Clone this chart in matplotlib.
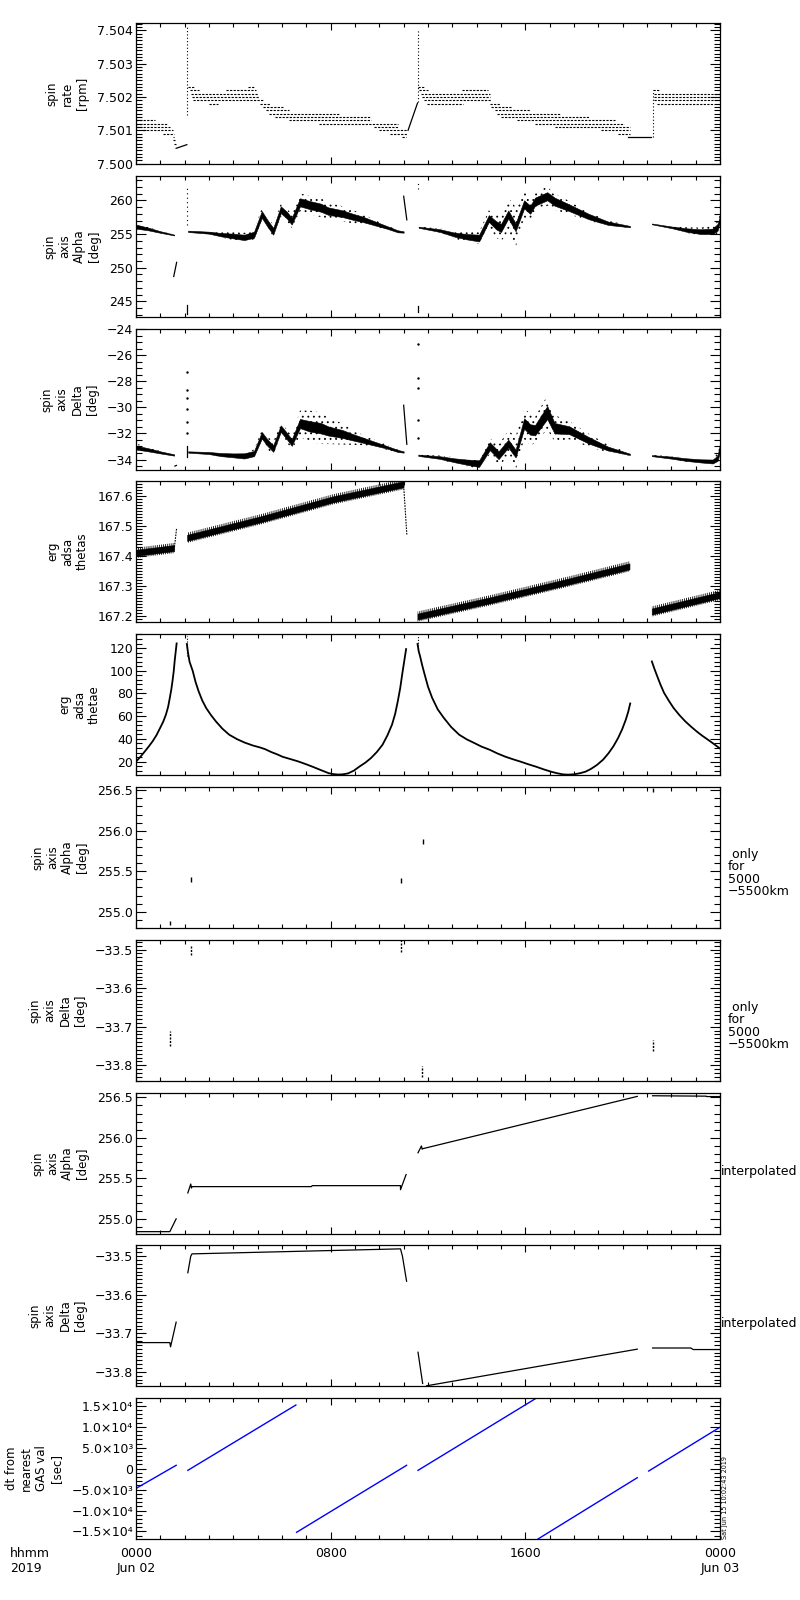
import numpy as np
import matplotlib
matplotlib.use("Agg")
import matplotlib.pyplot as plt
from matplotlib.ticker import MultipleLocator, FixedLocator, FuncFormatter

plt.rcParams["font.family"] = ["DejaVu Sans"]
plt.rcParams["axes.linewidth"] = 0.9
plt.rcParams["hatch.linewidth"] = 0.6

# ---------------------------------------------------------------
# data (hours since 2019-06-02 00:00)
# ---------------------------------------------------------------

# panel 1 : spin rate [rpm], quantised levels (t0, t1, level)
rate_lvl_t0 = [0.0, 0.0, 0.0, 0.3, 1.1, 1.5, 1.52, 1.55,
               2.12, 4.6, 2.2, 3.7, 2.25, 2.3, 2.35, 3.0, 5.1, 5.2, 5.35, 5.45, 5.7, 6.3, 7.5, 9.8, 10.0, 10.45, 10.95,
               11.6, 11.65, 13.4, 11.7, 11.75, 11.85, 11.95, 14.55, 14.6, 14.75, 14.85, 15.0, 15.65, 16.4, 17.2, 19.1, 19.8,
               21.23, 21.3, 21.3, 21.3, 21.4]
rate_lvl_t1 = [0.78, 1.26, 1.40, 1.53, 1.55, 1.58, 1.62, 1.65,
               2.4, 4.85, 2.6, 4.95, 5.0, 5.05, 5.2, 3.35, 5.5, 6.1, 6.3, 8.4, 9.65, 9.65, 10.76, 10.76, 11.15, 11.15, 11.1,
               11.85, 12.0, 14.45, 14.55, 14.55, 14.6, 13.45, 14.95, 15.4, 16.2, 17.45, 18.6, 19.7, 20.05, 20.3, 20.3, 20.3,
               21.55, 24.0, 24.0, 24.0, 23.7]
rate_lvl_val = [7.5013, 7.5012, 7.5011, 7.5010, 7.5009, 7.5008, 7.5007, 7.5006,
                7.5023, 7.5023, 7.5022, 7.5022, 7.5021, 7.5020, 7.5019, 7.5018, 7.5018, 7.5017, 7.5016, 7.5015, 7.5014,
                7.5013, 7.5012, 7.5011, 7.5010, 7.5009, 7.5008,
                7.5023, 7.5022, 7.5022, 7.5021, 7.5020, 7.5019, 7.5018, 7.5018, 7.5017, 7.5016, 7.5015, 7.5014, 7.5013,
                7.5012, 7.5011, 7.5010, 7.5009,
                7.5022, 7.5021, 7.5020, 7.5019, 7.5018]
rate_ramp_t = [[1.65, 2.09], [11.18, 11.57]]
rate_ramp_v = [[7.50046, 7.50057], [7.50100, 7.50182]]
rate_flat_t = [20.2, 21.18]
rate_flat_v = [7.50080, 7.50080]
rate_spike_t = [2.11, 11.60, 21.23]
rate_spike_lo = [7.50146, 7.50186, 7.50080]
rate_spike_hi = [7.50415, 7.50400, 7.50222]

# panel 2 : spin axis alpha [deg], bands (time, centre, core half width, scatter half width)
alpha_t = [[0.0, 0.5, 1.0, 1.57],
           [2.14, 3.0, 3.5, 4.0, 4.45, 4.85, 5.17, 5.4, 5.64, 5.95, 6.2, 6.4, 6.74, 7.13, 7.6, 7.9, 8.5, 8.87,
            9.3, 9.8, 10.3, 10.76, 11.0],
           [11.62, 12.5, 13.1, 13.6, 14.1, 14.5, 14.8, 15.0, 15.3, 15.6, 15.95, 16.2, 16.4, 16.9, 17.2, 17.8,
            18.6, 19.4, 20.3],
           [21.2, 22.0, 22.6, 23.2, 23.7, 23.9, 24.0]]
alpha_c = [[256.1, 255.75, 255.3, 254.85],
           [255.4, 255.2, 254.9, 254.7, 254.5, 254.9, 257.9, 256.6, 255.4, 258.6, 257.8, 256.9, 259.7, 259.3,
            258.9, 258.4, 258.0, 257.6, 257.2, 256.6, 256.0, 255.4, 255.3],
           [256.0, 255.5, 254.9, 254.6, 254.4, 257.3, 256.3, 255.9, 257.9, 256.0, 259.4, 258.6, 259.8, 260.6,
            259.8, 258.9, 257.6, 256.6, 256.1],
           [256.5, 256.0, 255.6, 255.35, 255.4, 256.0, 257.3]]
alpha_core = [[0.3, 0.2, 0.12, 0.06],
              [0.1, 0.15, 0.25, 0.35, 0.4, 0.45, 0.5, 0.5, 0.5, 0.5, 0.5, 0.5, 0.6, 0.6, 0.6, 0.55, 0.5, 0.45,
               0.4, 0.3, 0.2, 0.15, 0.1],
              [0.08, 0.2, 0.3, 0.4, 0.5, 0.5, 0.6, 0.6, 0.6, 0.6, 0.6, 0.6, 0.6, 0.6, 0.6, 0.5, 0.4, 0.25, 0.1],
              [0.06, 0.12, 0.25, 0.35, 0.4, 0.5, 0.4]]
alpha_scat = [[0.5, 0.3, 0.15, 0.06],
              [0.1, 0.2, 0.4, 0.6, 0.7, 0.7, 0.9, 1.0, 1.0, 0.9, 1.0, 1.0, 1.3, 1.4, 1.4, 1.3, 1.1, 1.0, 0.8,
               0.5, 0.3, 0.2, 0.1],
              [0.1, 0.3, 0.6, 0.8, 0.9, 1.2, 1.8, 2.0, 2.5, 3.0, 2.0, 1.5, 1.4, 1.4, 1.2, 1.0, 0.6, 0.4, 0.15],
              [0.08, 0.2, 0.4, 0.6, 0.8, 0.9, 0.6]]
alpha_lines_t = [[1.55, 1.67], [11.0, 11.13], [2.09, 2.09], [11.6, 11.6]]
alpha_lines_v = [[248.7, 250.8], [260.6, 257.1], [243.1, 244.5], [243.5, 244.3]]
alpha_spike_t = [2.09, 11.6]
alpha_spike_lo = [256.3, 261.6]
alpha_spike_hi = [262.1, 262.6]

# panel 3 : spin axis delta [deg]
delta_t = [[0.0, 0.5, 1.0, 1.57],
           [2.14, 3.0, 3.5, 4.0, 4.45, 4.85, 5.17, 5.4, 5.64, 5.95, 6.2, 6.4, 6.74, 7.13, 7.6, 7.9, 8.5, 8.87,
            9.3, 9.8, 10.3, 10.76, 11.0],
           [11.6, 12.5, 13.1, 13.6, 14.1, 14.54, 14.9, 15.3, 15.6, 15.95, 16.2, 16.4, 16.9, 17.2, 17.8, 18.6,
            19.4, 20.3],
           [21.2, 22.0, 22.6, 23.2, 23.7, 23.9, 24.0]]
delta_c = [[-33.08, -33.25, -33.45, -33.65],
           [-33.42, -33.5, -33.62, -33.68, -33.72, -33.54, -32.14, -32.7, -33.16, -31.63, -32.2, -32.7, -31.24,
            -31.45, -31.6, -31.81, -32.05, -32.27, -32.5, -32.78, -33.05, -33.34, -33.42],
           [-33.67, -33.85, -34.06, -34.2, -34.31, -32.98, -33.67, -32.78, -33.54, -31.24, -31.7, -31.75, -30.4,
            -31.6, -31.75, -32.52, -33.16, -33.6],
           [-33.7, -33.85, -34.0, -34.1, -34.15, -33.9, -33.1]]
delta_core = [[0.15, 0.12, 0.08, 0.05],
              [0.05, 0.08, 0.12, 0.15, 0.2, 0.2, 0.25, 0.25, 0.25, 0.25, 0.25, 0.25, 0.35, 0.4, 0.4, 0.35, 0.3,
               0.25, 0.2, 0.15, 0.1, 0.08, 0.05],
              [0.05, 0.1, 0.15, 0.2, 0.25, 0.3, 0.3, 0.3, 0.3, 0.4, 0.4, 0.4, 0.5, 0.4, 0.3, 0.25, 0.15, 0.05],
              [0.04, 0.08, 0.1, 0.12, 0.15, 0.2, 0.3]]
delta_scat = [[0.3, 0.2, 0.1, 0.05],
              [0.05, 0.1, 0.2, 0.3, 0.3, 0.3, 0.4, 0.5, 0.5, 0.5, 0.5, 0.5, 1.0, 1.2, 1.2, 1.0, 0.8, 0.6, 0.4,
               0.3, 0.2, 0.1, 0.05],
              [0.05, 0.15, 0.25, 0.3, 0.4, 0.6, 0.8, 1.0, 1.3, 1.2, 1.2, 1.0, 1.3, 1.0, 0.7, 0.5, 0.3, 0.1],
              [0.05, 0.1, 0.15, 0.2, 0.3, 0.4, 0.5]]
delta_lines_t = [[1.6, 1.66], [11.0, 11.13], [2.09, 2.09]]
delta_lines_v = [[-34.5, -34.45], [-29.84, -32.83], [-33.8, -33.0]]
delta_dots_t = [2.09, 2.09, 2.09, 2.09, 2.09, 2.09, 11.6, 11.6, 11.6, 11.6, 11.6]
delta_dots_v = [-27.28, -28.69, -29.25, -30.09, -31.16, -31.93, -25.16, -27.79, -28.51, -30.99, -32.32]

# panel 4 : erg adsa thetas
thetas_t = [[0.0, 1.57], [2.1, 5.1, 8.1, 10.99], [11.57, 14.6, 17.5, 20.28], [21.2, 24.0]]
thetas_c = [[167.411, 167.427], [167.461, 167.522, 167.589, 167.639],
            [167.199, 167.254, 167.310, 167.366], [167.216, 167.271]]
thetas_lines_t = [[1.58, 1.67], [11.0, 11.13]]
thetas_lines_v = [[167.43, 167.494], [167.634, 167.472]]

# panel 5 : erg adsa thetae
thetae_t = [[0.0, 0.18, 0.36, 0.52, 0.68, 0.84, 0.99, 1.12, 1.23, 1.32, 1.39, 1.45, 1.50, 1.55, 1.59, 1.63, 1.67],
            [2.09, 2.13, 2.2, 2.33, 2.45, 2.57, 2.72, 2.88, 3.08, 3.28, 3.55, 3.83, 4.15, 4.46, 4.8, 5.09, 5.3,
             5.56, 5.8, 6.03, 6.35, 6.66, 7.0, 7.29, 7.6, 7.92, 8.1, 8.31, 8.5, 8.71, 8.95, 9.18, 9.42, 9.65,
             9.9, 10.13, 10.33, 10.52, 10.65, 10.76, 10.86, 10.94, 11.02, 11.10],
            [11.57, 11.62, 11.67, 11.76, 11.86, 12.0, 12.17, 12.4, 12.65, 12.95, 13.28, 13.6, 13.91, 14.2, 14.54,
             14.85, 15.17, 15.5, 15.80, 16.1, 16.43, 16.75, 17.06, 17.3, 17.53, 17.75, 18.0, 18.25, 18.47, 18.7,
             18.94, 19.2, 19.42, 19.62, 19.81, 19.98, 20.13, 20.23, 20.31],
            [21.20, 21.3, 21.39, 21.55, 21.70, 21.9, 22.09, 22.33, 22.57, 22.8, 23.04, 23.27, 23.51, 23.75, 23.98]]
thetae_v = [[20, 24.2, 28.9, 33.2, 37.8, 43.2, 49.6, 55.2, 61.4, 68.2, 76.2, 83.4, 91, 99.5, 108.8, 116.5, 124.1],
            [123.6, 117, 108, 99.9, 90, 82.1, 74, 67.3, 61, 55.5, 49, 43.7, 39.8, 36.8, 34.2, 32.5, 31.0,
             28.4, 26.4, 24.2, 22.2, 20.2, 17.6, 15.2, 12.5, 9.8, 9.0, 8.6, 8.8, 9.6, 12.0, 15.6, 19.0, 23.0,
             28.5, 34.8, 43, 52.5, 62, 73.3, 85, 96.9, 108, 119.1],
            [123.6, 117, 113.2, 105, 96.9, 86, 76.2, 66, 58.5, 50.5, 43.7, 39.5, 36.3, 33.2, 30.4, 27.2, 24.4,
             22.0, 20.0, 17.8, 15.6, 13.2, 11.1, 9.8, 8.8, 8.5, 8.8, 9.8, 11.1, 13.6, 17.0, 21.8, 27.4, 33.5,
             40.7, 48.5, 57.0, 64, 71.2],
            [108.2, 102, 96.9, 88, 80.6, 73.5, 67.3, 61, 55.5, 51, 46.6, 42.8, 39.2, 35.5, 31.8]]
thetae_spike_t = [2.1, 11.6]
thetae_spike_lo = [113.0, 122.0]
thetae_spike_hi = [131.0, 131.0]

# panel 6 / 7 : only for 5000-5500 km (t, v0, v1)
alt_alpha_t = [1.40, 2.27, 10.88, 11.78, 21.23]
alt_alpha_lo = [254.84, 255.37, 255.35, 255.84, 256.48]
alt_alpha_hi = [254.89, 255.43, 255.42, 255.90, 256.53]
alt_delta_t = [1.40, 2.27, 10.87, 11.77, 21.23]
alt_delta_lo = [-33.751, -33.514, -33.505, -33.831, -33.762]
alt_delta_hi = [-33.712, -33.491, -33.476, -33.802, -33.734]

# panel 8 / 9 : interpolated
ialpha_t = [[0.0, 1.39, 1.65],
            [2.13, 2.25, 2.28, 2.30, 7.21, 7.24, 10.87, 10.87, 11.1],
            [11.59, 11.73, 11.76, 11.78, 20.6],
            [21.23, 23.43, 23.45, 24.0]]
ialpha_v = [[254.842, 254.842, 255.0],
            [255.32, 255.43, 255.38, 255.398, 255.398, 255.41, 255.41, 255.36, 255.547],
            [255.816, 255.90, 255.86, 255.866, 256.512],
            [256.52, 256.515, 256.51, 256.51]]
idelta_t = [[0.0, 1.39, 1.42, 1.65],
            [2.13, 2.25, 2.30, 10.87, 10.95, 11.12],
            [11.59, 11.78],
            [11.94, 20.6],
            [21.23, 22.8, 22.9, 24.0]]
idelta_v = [[-33.724, -33.724, -33.735, -33.671],
            [-33.543, -33.50, -33.494, -33.481, -33.50, -33.565],
            [-33.749, -33.830],
            [-33.836, -33.741],
            [-33.738, -33.738, -33.742, -33.742]]

# panel 10 : dt from nearest GAS val [sec]
dt_t0 = [0.0, 2.13, 6.60, 11.59, 16.52, 21.07]
dt_t1 = [1.65, 6.57, 11.12, 16.46, 20.60, 23.98]
dt_v0 = [-4720, -400, -15200, -400, -16800, -560]
dt_v1 = [800, 15200, 800, 16880, -2160, 9840]

ylabels = ["spin\nrate\n[rpm]", "spin\naxis\nAlpha\n[deg]", "spin\naxis\nDelta\n[deg]",
           "erg\nadsa\nthetas", "erg\nadsa\nthetae", "spin\naxis\nAlpha\n[deg]", "spin\naxis\nDelta\n[deg]",
           "spin\naxis\nAlpha\n[deg]", "spin\naxis\nDelta\n[deg]", "dt from\nnearest\nGAS val\n[sec]"]
right_notes = [None, None, None, None, None, " only\nfor\n5000\n\u22125500km", " only\nfor\n5000\n\u22125500km",
               "interpolated", "interpolated", None]
xtick_labels = ["0000\nJun 02", "0800", "1600", "0000\nJun 03"]


def fmt(decimals):
    return FuncFormatter(lambda v, p: f"{v:.{decimals}f}".replace("-", "\u2212"))


def sci_fmt(v, p):
    if abs(v) < 1:
        return "0"
    sign = "\u2212" if v < 0 else ""
    exp = int(np.floor(np.log10(abs(v))))
    sup = {3: "\u00b3", 4: "\u2074"}[exp]
    return f"{sign}{abs(v) / 10 ** exp:.1f}\u00d710{sup}"


# (ylim, major, minor, formatter)
axis_specs = [((7.49999, 7.50422), 0.001, 0.0001, fmt(3)),
              ((242.7, 263.6), 5, 1, fmt(0)),
              ((-34.8, -24.0), 2, 0.5, fmt(0)),
              ((167.181, 167.650), 0.1, 0.01, fmt(1)),
              ((8.2, 132.4), 20, 4, fmt(0)),
              ((254.80, 256.54), 0.5, 0.1, fmt(1)),
              ((-33.841, -33.475), 0.1, 0.01, fmt(1)),
              ((254.813, 256.554), 0.5, 0.1, fmt(1)),
              ((-33.8365, -33.471), 0.1, 0.01, fmt(1)),
              ((-16800, 16880), 5000, 1000, FuncFormatter(sci_fmt))]

W, H = 800, 1600
panel_top = [23, 176, 329, 481, 634, 787, 940, 1093, 1245, 1398]
panel_h = 141
x_left, x_right = 136, 720

fig = plt.figure(figsize=(8, 16), dpi=100)
axes = []
for i, top in enumerate(panel_top):
    ax = fig.add_axes([x_left / W, 1 - (top + panel_h) / H, (x_right - x_left) / W, panel_h / H])
    ylim, major, minor, formatter = axis_specs[i]
    ax.set_xlim(0, 24)
    ax.set_ylim(*ylim)
    ax.xaxis.set_major_locator(FixedLocator([0, 8, 16, 24]))
    ax.xaxis.set_minor_locator(MultipleLocator(1))
    ax.yaxis.set_major_locator(MultipleLocator(major))
    ax.yaxis.set_minor_locator(MultipleLocator(minor))
    ax.yaxis.set_major_formatter(formatter)
    ax.tick_params(which="both", direction="in", top=True, right=True, width=0.8)
    ax.tick_params(axis="y", which="major", length=7.5, labelsize=9, pad=2)
    ax.tick_params(axis="y", which="minor", length=4)
    ax.tick_params(axis="x", which="major", length=5)
    ax.tick_params(axis="x", which="minor", length=3)
    ax.tick_params(axis="x", labelbottom=False)
    ax.set_ylabel(ylabels[i], fontsize=8.5, labelpad=6, multialignment="center")
    if right_notes[i]:
        if right_notes[i] == "interpolated":
            ax.text(1.001, 0.44, right_notes[i], transform=ax.transAxes, ha="left", va="center", fontsize=9)
        else:
            ax.text(1.0137, 0.39, right_notes[i], transform=ax.transAxes, ha="left", va="center",
                    fontsize=9, linespacing=0.95)
    axes.append(ax)

lw = 0.9

# panel 1
ax = axes[0]
ax.hlines(rate_lvl_val, rate_lvl_t0, rate_lvl_t1, colors="k", linestyles=(0, (2.0, 1.2)), linewidth=0.8)
for t, v in zip(rate_ramp_t, rate_ramp_v):
    ax.plot(t, v, color="k", lw=lw)
ax.plot(rate_flat_t, rate_flat_v, color="k", lw=lw)
ax.vlines(rate_spike_t, rate_spike_lo, rate_spike_hi, colors="k", linestyles=(0, (1, 2)), linewidth=0.8)


def bands(ax, ts, cs, cores, scats):
    for t, c, core, scat in zip(ts, cs, cores, scats):
        t, c, core, scat = map(np.asarray, (t, c, core, scat))
        ax.fill_between(t, c - scat, c + scat, facecolor="none", edgecolor="k", hatch="...", linewidth=0)
        ax.fill_between(t, c - core, c + core, color="k", linewidth=0.4)


# panel 2
ax = axes[1]
bands(ax, alpha_t, alpha_c, alpha_core, alpha_scat)
for t, v in zip(alpha_lines_t, alpha_lines_v):
    ax.plot(t, v, color="k", lw=lw)
ax.vlines(alpha_spike_t, alpha_spike_lo, alpha_spike_hi, colors="k", linestyles=(0, (1, 3)), linewidth=0.8)

# panel 3
ax = axes[2]
bands(ax, delta_t, delta_c, delta_core, delta_scat)
for t, v in zip(delta_lines_t, delta_lines_v):
    ax.plot(t, v, color="k", lw=lw)
ax.plot(delta_dots_t, delta_dots_v, ls="none", marker="s", ms=0.7, color="k")

# panel 4
ax = axes[3]
for t, c in zip(thetas_t, thetas_c):
    t, c = np.asarray(t), np.asarray(c)
    ax.fill_between(t, c - 0.017, c + 0.017, facecolor="none", edgecolor="k", hatch="|" * 8, linewidth=0)
    ax.fill_between(t, c - 0.010, c + 0.010, color="k", linewidth=0.4)
for t, v in zip(thetas_lines_t, thetas_lines_v):
    ax.plot(t, v, color="k", lw=0.8, ls=(0, (1.5, 1)))

# panel 5
ax = axes[4]
for t, v in zip(thetae_t, thetae_v):
    ax.plot(t, v, color="k", lw=1.3)
ax.vlines(thetae_spike_t, thetae_spike_lo, thetae_spike_hi, colors="k", linestyles=(0, (1, 1.5)), linewidth=0.8)

# panels 6, 7
axes[5].vlines(alt_alpha_t, alt_alpha_lo, alt_alpha_hi, colors="k", linewidth=1.0)
axes[6].vlines(alt_delta_t, alt_delta_lo, alt_delta_hi, colors="k", linestyles=(0, (1.5, 1)), linewidth=1.0)

# panels 8, 9
for t, v in zip(ialpha_t, ialpha_v):
    axes[7].plot(t, v, color="k", lw=lw)
for t, v in zip(idelta_t, idelta_v):
    axes[8].plot(t, v, color="k", lw=lw)

# panel 10
ax = axes[9]
for t0, t1, v0, v1 in zip(dt_t0, dt_t1, dt_v0, dt_v1):
    ax.plot([t0, t1], [v0, v1], color="blue", lw=1.0)
ax.tick_params(axis="x", labelbottom=True, labelsize=9, pad=6)
ax.set_xticklabels(xtick_labels)

fig.text(10 / W, 1 - 1547 / H, "hhmm\n2019", ha="left", va="top", fontsize=9)
fig.text(722 / W, 1 - 1539 / H, "Sat Jun 15 10:02:43 2019", rotation=90, ha="left", va="bottom", fontsize=4.7)

fig.savefig("out.png", dpi=100)
